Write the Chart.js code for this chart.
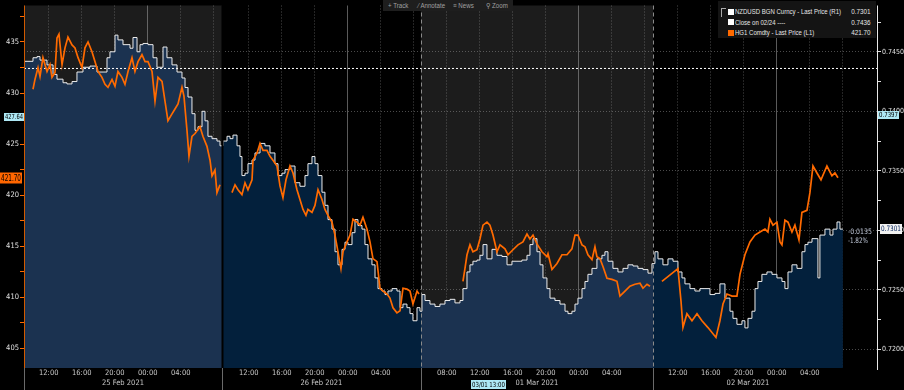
<!DOCTYPE html>
<html><head><meta charset="utf-8">
<script src="https://cdn.jsdelivr.net/npm/chart.js@4.4.1/dist/chart.umd.min.js"></script>
<style>
html,body{margin:0;padding:0;background:#000;width:904px;height:390px;overflow:hidden;}
#wrap{position:relative;width:904px;height:390px;}
#c{position:absolute;left:0;top:0;}
#legend{position:absolute;left:718px;top:1px;width:158px;height:37px;background:#141414;font-family:'Liberation Sans',sans-serif;font-size:7px;color:#e6e6e6;}
#legend .row{position:absolute;left:0;width:100%;height:9px;line-height:9px;white-space:nowrap;}
#legend .sq{position:absolute;left:10px;top:1.5px;width:6px;height:6px;}
#legend .lt{position:absolute;left:17px;top:0;transform:scaleX(0.86);transform-origin:0 50%;}
#legend .val{position:absolute;right:6px;top:0;transform:scaleX(0.9);transform-origin:100% 50%;}
#legend .brk{position:absolute;left:3px;top:7px;width:4px;height:8px;border-left:1px solid #aaa;border-top:1px solid #aaa;}
#tools{position:absolute;left:383px;top:0;width:130px;height:11px;background:#1e1e1e;font-family:'Liberation Sans',sans-serif;font-size:7px;color:#a0a0a0;}
#tools span{position:absolute;top:1px;line-height:9px;white-space:nowrap;transform:scaleX(0.88);transform-origin:0 50%;}
</style>
</head><body>
<div id="wrap">
<canvas id="c" width="904" height="390"></canvas>
<div id="tools"><span style="left:5px">+ Track</span><span style="left:35px">&#8260; Annotate</span><span style="left:70px">&#8801; News</span><span style="left:103px">&#9906; Zoom</span></div>
<div id="legend">
  <div class="brk"></div>
  <div class="row" style="top:6px"><span class="sq" style="background:#fff"></span><span class="lt">NZDUSD BGN Curncy - Last Price (R1)</span><span class="val">0.7301</span></div>
  <div class="row" style="top:16.5px"><span class="sq" style="background:#fff"></span><span class="lt">Close on 02/24 ----</span><span class="val">0.7436</span></div>
  <div class="row" style="top:27px"><span class="sq" style="background:#ff6a00"></span><span class="lt">HG1 Comdty - Last Price (L1)</span><span class="val">421.70</span></div>
</div>
</div>
<script>
// ---- DATA (x = trading hours from 25 Feb 09:00 on a compressed session axis) ----
const nzdHours = [0,1.09,1.58,1.94,2.79,3.52,4.0,4.73,5.21,5.82,6.42,7.15,8.0,8.85,9.58,10.06,10.42,11.03,11.39,12.0,12.85,13.21,13.70,14.06,14.42,15.03,15.64,16.12,16.85,17.33,17.94,18.55,19.15,19.52,19.88,20.36,20.73,21.09,21.58,21.94,22.30,22.79,23.39,23.76,
24.12,24.61,24.97,25.33,25.82,26.18,26.42,26.79,27.15,27.64,28.0,28.61,29.21,29.82,30.42,30.79,31.27,31.64,32.24,32.85,33.45,34.06,34.42,34.91,35.27,35.64,36.12,36.48,36.85,37.33,37.70,38.06,38.55,38.91,39.27,39.76,40.12,40.48,40.97,41.33,41.70,42.18,42.55,42.91,43.39,43.76,44.12,44.61,45.21,45.58,45.94,46.42,46.79,47.15,47.64,48.0,
48.24,48.61,49.21,49.82,50.42,51.03,51.64,52.24,52.85,53.21,53.70,54.06,54.42,54.91,55.27,55.64,56.12,56.73,57.33,57.94,58.55,59.15,59.76,60.36,60.97,61.33,61.70,62.18,62.55,62.91,63.39,63.76,64.36,64.97,65.58,65.94,66.42,66.79,67.15,67.64,68.0,68.36,68.85,69.45,70.06,70.42,70.79,71.39,72.0,72.61,73.21,73.82,74.42,75.03,75.64,76.12,
76.48,76.85,77.45,78.06,78.67,79.27,79.76,80.12,80.73,81.33,81.94,82.55,83.15,83.76,84.36,84.97,85.58,85.94,86.42,87.03,87.39,87.76,88.24,88.61,88.97,89.45,90.06,90.67,91.27,91.88,92.24,92.61,93.09,93.70,94.30,94.67,95.03,95.52,95.88,96.24,96.48,97.09,97.70,98.06,98.55,98.91,99.27];
const nzdPrice = [0.7442,0.7445,0.7446,0.7443,0.7439,0.7431,0.7427,0.7424,0.7423,0.7425,0.7433,0.7437,0.7438,0.7433,0.7433,0.7445,0.7450,0.7464,0.7460,0.7456,0.7453,0.7462,0.7450,0.7456,0.7457,0.7456,0.7445,0.7437,0.7454,0.7445,0.7439,0.7433,0.7428,0.7420,0.7412,0.7398,0.7384,0.7387,0.7400,0.7392,0.7379,0.7377,0.7375,0.7371,
0.7375,0.7379,0.7377,0.7380,0.7371,0.7362,0.7346,0.7348,0.7356,0.7359,0.7365,0.7373,0.7371,0.7365,0.7356,0.7346,0.7348,0.7351,0.7354,0.7340,0.7337,0.7346,0.7356,0.7362,0.7356,0.7346,0.7332,0.7321,0.7309,0.7301,0.7282,0.7271,0.7284,0.7290,0.7288,0.7298,0.7309,0.7304,0.7301,0.7288,0.7276,0.7271,0.7260,0.7251,0.7249,0.7246,0.7249,0.7251,0.7249,0.7235,0.7238,0.7235,0.7230,0.7224,0.7235,0.7232,
0.7246,0.7241,0.7238,0.7236,0.7238,0.7241,0.7242,0.7239,0.7241,0.7251,0.7265,0.7271,0.7274,0.7275,0.7279,0.7288,0.7276,0.7284,0.7279,0.7278,0.7271,0.7274,0.7274,0.7275,0.7279,0.7288,0.7293,0.7282,0.7271,0.7260,0.7251,0.7243,0.7241,0.7238,0.7232,0.7230,0.7232,0.7238,0.7243,0.7251,0.7257,0.7263,0.7268,0.7276,0.7279,0.7282,0.7274,0.7268,0.7265,0.7268,0.7271,0.7270,0.7268,0.7267,0.7264,0.7272,
0.7282,0.7276,0.7271,0.7276,0.7274,0.7265,0.7260,0.7255,0.7251,0.7249,0.7251,0.7251,0.7246,0.7247,0.7255,0.7243,0.7232,0.7226,0.7221,0.7224,0.7218,0.7226,0.7232,0.7251,0.7257,0.7263,0.7265,0.7263,0.7260,0.7257,0.7251,0.7265,0.7271,0.7268,0.7282,0.7288,0.7290,0.7293,0.7293,0.7260,0.7296,0.7301,0.7296,0.7301,0.7307,0.7301,0.7301];

const hgHours = [1.09,1.33,1.70,1.94,2.30,2.79,3.15,3.39,3.76,4.0,4.24,4.61,4.97,5.33,5.82,6.18,6.55,7.03,7.39,7.76,8.24,8.61,8.97,9.45,9.82,10.18,10.67,11.03,11.39,11.88,12.24,12.61,13.09,13.45,13.82,14.30,14.67,15.03,15.52,15.88,16.24,16.73,17.09,17.45,17.94,18.30,18.67,19.15,19.39,19.76,20.0,20.36,20.73,21.33,21.70,22.18,22.55,22.79,23.15,23.39,23.76,
24.5,
25.21,25.58,25.94,26.42,26.79,27.15,27.64,27.76,28.24,28.61,28.97,29.45,29.82,30.18,30.67,31.03,31.39,31.76,32.24,32.61,33.09,33.45,33.82,34.18,34.42,34.91,35.27,35.64,36.12,36.48,36.85,37.33,37.70,38.06,38.42,38.67,39.15,39.52,39.88,40.36,40.73,41.09,41.58,41.94,42.30,42.79,43.15,43.52,44.0,44.36,44.73,45.21,45.58,45.94,46.42,46.79,47.15,47.64,47.88,
50.0,
53.21,53.45,53.70,54.06,54.42,54.91,55.27,55.64,56.12,56.48,56.85,57.33,57.70,58.30,58.67,59.27,59.88,60.48,60.97,61.33,61.70,62.18,62.79,63.39,63.52,64.0,64.61,65.21,65.82,66.42,66.79,67.15,67.64,68.0,68.36,68.85,69.21,69.45,69.82,70.18,70.67,71.27,71.88,72.24,72.85,73.45,74.06,74.67,75.03,75.52,75.88,
76.8,
77.33,79.27,79.64,79.88,80.36,80.97,81.58,82.18,82.91,83.88,84.36,84.73,85.21,85.82,86.42,86.79,87.39,88.0,88.61,89.21,89.82,90.18,90.42,90.79,91.27,91.64,91.88,92.24,92.61,93.09,93.45,93.94,94.30,94.91,95.27,95.64,96.12,96.61,97.33,97.94,98.30,98.67];
const hgPrice = [430.37,431.33,432.49,431.62,433.46,432.11,432.78,431.53,432.01,435.39,435.77,432.78,434.42,435.48,434.71,434.42,433.46,432.49,434.42,435.0,434.04,433.07,432.11,431.53,430.85,430.56,431.33,430.66,432.11,431.53,430.85,432.11,433.46,432.11,433.07,433.75,433.07,433.07,432.11,429.21,431.53,431.14,429.21,427.28,427.96,428.44,428.92,430.56,429.69,426.32,423.81,425.74,426.03,426.70,425.74,424.78,423.42,421.88,422.46,420.24,421.01,
null,
420.24,421.01,420.53,420.05,421.21,420.53,421.50,423.42,424.10,425.06,424.39,424.39,423.81,423.42,422.85,420.92,419.76,421.50,422.85,422.17,420.53,419.57,418.60,418.02,418.60,418.31,418.99,420.53,419.57,418.60,418.02,417.35,416.09,414.45,412.81,414.45,415.42,416.09,417.64,417.35,417.06,417.83,416.67,415.42,413.78,413.49,410.88,410.60,410.31,409.92,408.96,408.47,408.67,410.88,410.79,410.60,409.34,410.60,410.31,
null,
411.56,412.81,414.16,415.13,414.45,414.65,415.71,417.06,417.35,417.06,416.09,414.45,415.13,414.74,414.16,414.65,415.13,415.42,416.19,415.71,416.09,415.23,414.45,413.97,414.26,412.72,413.30,414.16,414.16,414.74,416.09,416.09,415.13,414.94,414.16,413.68,414.94,413.97,413.78,413.01,411.85,411.75,411.56,410.11,410.60,411.08,411.27,411.37,410.88,411.27,411.08,
null,
411.56,412.81,409.63,407.03,408.38,407.70,408.38,407.70,407.03,406.06,407.70,409.34,410.31,410.11,410.11,412.24,414.16,415.42,416.09,416.38,416.67,416.38,417.64,417.06,417.35,415.42,415.13,417.54,417.35,416.38,417.06,415.61,418.31,418.51,420.24,422.85,422.17,421.50,422.85,421.88,422.17,421.70];

const closePrice = 0.7436;
const timeTicks  = [3,7,11,15,19,23, 27.25,31.25,35.25,39.25,43.25,47.25, 51.25,55.25,59.25,63.25,67.25,71.25,75.25, 79.25,83.25,87.25,91.25,95.25,99.25];
const timeLabels = ['12:00','16:00','20:00','00:00','04:00','', '12:00','16:00','20:00','00:00','04:00','', '08:00','12:00','16:00','20:00','00:00','04:00','', '12:00','16:00','20:00','00:00','04:00',''];
const midnightTicks = [15,39.25,67.25,91.25];
const sessionBounds = [0,24,48.1,76.25,103.4];
const dayCenters = [12,36.05,62.18,87.76];
const dayLabels = ['25 Feb 2021','26 Feb 2021','01 Mar 2021','02 Mar 2021'];
const leftTicks = [405,407.5,410,412.5,415,417.5,420,422.5,425,427.5,430,432.5,435,437.5];
const rightTicks = [0.72,0.7225,0.725,0.7275,0.73,0.7325,0.735,0.7375,0.74,0.7425,0.745,0.7475];
const crossLeft = 427.64, crossRight = 0.7397, crossHour = 56.25, crossLabel = '03/01 13:00';

const FONT = "'Liberation Sans Narrow','Arial Narrow','DejaVu Sans Condensed','Liberation Sans',sans-serif";
const GRID = 'rgba(165,165,165,0.45)';

const P = (ch,id,v)=>ch.scales[id].getPixelForValue(v);

function fillGradient(c){
  const ch=c.chart, a=ch.chartArea;
  if(!a) return '#1b3250';
  const g=ch.ctx.createLinearGradient(a.left,0,a.right,0);
  const f=h=>Math.min(1,Math.max(0,(P(ch,'x',h)-a.left)/(a.right-a.left)));
  const cols=['#1b3250','#03203c','#1b3250','#03203c'];
  for(let i=0;i<4;i++){ g.addColorStop(f(sessionBounds[i]),cols[i]); g.addColorStop(f(sessionBounds[i+1]),cols[i]); }
  return g;
}

function fitText(ctx,text,cx,cy,maxW,size,color,align){
  ctx.save();
  ctx.font=size+'px '+FONT; ctx.fillStyle=color; ctx.textBaseline='middle'; ctx.textAlign=align||'center';
  const w=ctx.measureText(text).width;
  const s=w>maxW?maxW/w:1;
  ctx.translate(cx,cy); ctx.scale(s,1);
  ctx.fillText(text,0,0);
  ctx.restore();
}
function box(ctx,x,y,w,h,bg,fg,text,size){
  ctx.fillStyle=bg; ctx.fillRect(x,y,w,h);
  fitText(ctx,text,x+w/2,y+h/2+0.5,w-2,size,fg,'center');
}

const deco = {
  id:'deco',
  beforeDraw(ch){
    const {ctx,chartArea:a}=ch;
    ctx.save();
    ctx.fillStyle='#000'; ctx.fillRect(0,0,ch.width,ch.height);
    ctx.fillStyle='#1c1c1c';
    [[0,1],[2,3]].forEach(([i,j])=>{
      const x0=P(ch,'x',sessionBounds[i]), x1=P(ch,'x',sessionBounds[j]);
      ctx.fillRect(x0,a.top,x1-x0,a.bottom-a.top);
    });
    ctx.restore();
  },
  afterDatasetsDraw(ch){
    const {ctx,chartArea:a}=ch;
    ctx.save();
    let xb=Math.round(P(ch,'x',sessionBounds[1]))+0.5;
    ctx.strokeStyle='#000'; ctx.lineWidth=2;
    ctx.beginPath(); ctx.moveTo(xb,a.top); ctx.lineTo(xb,a.bottom); ctx.stroke();
    ctx.lineWidth=1; ctx.strokeStyle='#8a8a8a'; ctx.setLineDash([4,3]);
    [2,3].forEach(i=>{ const x=Math.round(P(ch,'x',sessionBounds[i]))+0.5;
      ctx.beginPath(); ctx.moveTo(x,a.top); ctx.lineTo(x,a.bottom); ctx.stroke(); });
    ctx.restore();
  },
  afterDraw(ch){
    const {ctx,chartArea:a}=ch;
    ctx.save();
    ctx.strokeStyle='#6a6a6a'; ctx.lineWidth=1;
    [0,1,2,3].forEach(i=>{ const x=Math.round(P(ch,'x',sessionBounds[i]))+0.5;
      ctx.beginPath(); ctx.moveTo(x,a.bottom); ctx.lineTo(x,ch.height); ctx.stroke(); });
    ctx.strokeStyle='#d05a00';
    ctx.beginPath(); ctx.moveTo(a.left+0.5,a.top); ctx.lineTo(a.left+0.5,a.bottom); ctx.stroke();
    ctx.strokeStyle='#e8e8e8';
    ctx.beginPath(); ctx.moveTo(a.right+0.5,a.top); ctx.lineTo(a.right+0.5,a.bottom+2); ctx.stroke();
    const lastHG = hgPrice[hgPrice.length-1];
    const lastNZ = nzdPrice[nzdPrice.length-1];
    let y = P(ch,'yL',lastHG);
    box(ctx,0,Math.round(y)-5.5,22,11,'#ff6600','#000',lastHG.toFixed(2),8);
    y = P(ch,'yL',crossLeft);
    box(ctx,4,Math.round(y)-4,20,8,'#aee8f5','#000',crossLeft.toFixed(2),7);
    y = P(ch,'yR',crossRight);
    box(ctx,878,Math.round(y)-4,21,8,'#aee8f5','#000',crossRight.toFixed(4),7);
    y = P(ch,'yR',lastNZ);
    box(ctx,880,Math.round(y)-5,22,10,'#f2f2f2','#00205a',lastNZ.toFixed(4),7.5);
    const xc = P(ch,'x',crossHour);
    box(ctx,Math.round(xc)-17,380,35,9,'#aee8f5','#000',crossLabel,7);
    const chg = lastNZ-closePrice, pct = chg/closePrice*100;
    const xl = P(ch,'x',nzdHours[nzdHours.length-1])+5, yl=P(ch,'yR',lastNZ);
    fitText(ctx,chg.toFixed(4),xl,yl+3,24,7.5,'#c0c8d8','left');
    fitText(ctx,pct.toFixed(2)+'%',xl,yl+12,20,7.5,'#c0c8d8','left');
    ctx.restore();
  }
};

const isMajorL = v => Math.abs(v/5-Math.round(v/5))<1e-6;
const isMajorR = v => Math.round(v*10000)%50===0;

new Chart(document.getElementById('c'),{
  type:'line',
  data:{datasets:[
    {label:'HG1 Comdty - Last Price (L1)', yAxisID:'yL', xAxisID:'x', order:0,
     data:hgHours.map((h,i)=>({x:h,y:hgPrice[i]})),
     borderColor:'#ff6a00', borderWidth:1.7, pointRadius:0, fill:false, spanGaps:false, tension:0},
    {label:'Close on 02/24', yAxisID:'yR', xAxisID:'x', order:1,
     data:[{x:sessionBounds[0],y:closePrice},{x:sessionBounds[4],y:closePrice}],
     borderColor:'#ffffff', borderWidth:1, borderDash:[2,2], pointRadius:0, fill:false},
    {label:'NZDUSD BGN Curncy - Last Price (R1)', yAxisID:'yR', xAxisID:'x', order:2,
     data:nzdHours.map((h,i)=>({x:h,y:nzdPrice[i]})),
     borderColor:'#ececec', borderWidth:1, pointRadius:0, stepped:'before',
     fill:'start', backgroundColor:fillGradient}
  ]},
  options:{
    responsive:false, animation:false, devicePixelRatio:1,
    layout:{padding:0, autoPadding:false},
    plugins:{legend:{display:false}, tooltip:{enabled:false}},
    scales:{
      x:{type:'linear', position:'bottom', min:sessionBounds[0], max:sessionBounds[4], weight:0, z:1,
         afterFit:s=>{s.height=11;},
         afterBuildTicks:s=>{s.ticks=timeTicks.map(v=>({value:v}));},
         ticks:{autoSkip:false, maxRotation:0, padding:1, color:'#c8c8c8', font:{family:FONT,size:7.5},
                callback:v=>{const i=timeTicks.indexOf(v); return i>=0?timeLabels[i]:'';}},
         grid:{drawTicks:false, lineWidth:1,
               color:c=>(c.tick && midnightTicks.includes(c.tick.value))?'rgba(150,150,150,0.6)':GRID},
         border:{display:false, dash:c=>(c.tick && midnightTicks.includes(c.tick.value))?[]:[1,2]}},
      x2:{type:'linear', position:'bottom', min:sessionBounds[0], max:sessionBounds[4], weight:1,
         afterFit:s=>{s.height=11;},
         afterBuildTicks:s=>{s.ticks=dayCenters.map(v=>({value:v}));},
         ticks:{autoSkip:false, maxRotation:0, padding:0, color:'#c8c8c8', font:{family:FONT,size:7.5},
                callback:v=>{const i=dayCenters.indexOf(v); return i>=0?dayLabels[i]:'';}},
         grid:{display:false, drawTicks:false, tickLength:0}, border:{display:false}},
      yL:{type:'linear', position:'left', min:403.07, max:438.57, z:1,
         afterFit:s=>{s.width=24;},
         afterBuildTicks:s=>{s.ticks=leftTicks.map(v=>({value:v}));},
         ticks:{autoSkip:false, padding:1, color:'#e0e0e0', font:{family:FONT,size:7.5},
                callback:v=>isMajorL(v)?String(v):''},
         grid:{drawOnChartArea:false, drawTicks:true, tickLength:4, tickColor:'#ff6a00', tickWidth:1},
         border:{display:false}},
      yR:{type:'linear', position:'right', min:0.71843, max:0.74889, z:1,
         afterFit:s=>{s.width=27;},
         afterBuildTicks:s=>{s.ticks=rightTicks.map(v=>({value:v}));},
         ticks:{autoSkip:false, padding:1, color:'#e0e0e0', font:{family:FONT,size:7},
                callback:v=>isMajorR(v)?v.toFixed(4):''},
         grid:{drawOnChartArea:true, drawTicks:true, tickLength:4, tickColor:'#e0e0e0', lineWidth:1,
               color:c=>(c.tick && isMajorR(c.tick.value))?GRID:'rgba(0,0,0,0)'},
         border:{display:false, dash:[1,2]}}
    }
  },
  plugins:[deco]
});
</script>
</body></html>
